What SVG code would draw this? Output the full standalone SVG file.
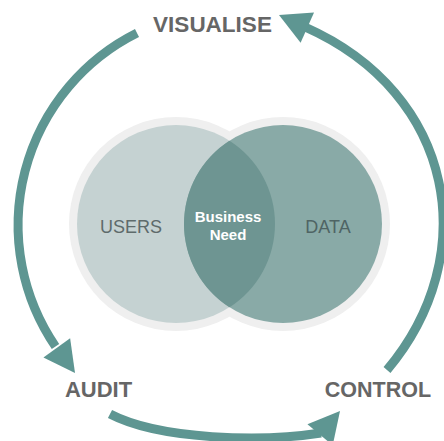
<svg xmlns="http://www.w3.org/2000/svg" xmlns:xlink="http://www.w3.org/1999/xlink" width="444" height="441" viewBox="0 0 444 441">
  <style>
    .shaft { fill: none; stroke: #5e9692; stroke-width: 9; }
    .head { fill: #5e9692; }
    .halo { fill: #efefef; }
    .stage { font-family: "Liberation Sans", Arial, sans-serif; font-weight: bold; font-size: 22px; fill: #666666; text-anchor: middle; }
    .set { font-family: "Liberation Sans", Arial, sans-serif; font-size: 18px; text-anchor: middle; }
    .core { font-family: "Liberation Sans", Arial, sans-serif; font-weight: bold; font-size: 15px; fill: #ffffff; text-anchor: middle; }
  </style>
  <defs>
    <path id="arrowhead" d="M0,0 L-31,-16.5 L-31,16.5 Z"/>
  </defs>
  <rect width="444" height="441" fill="#ffffff"/>

  <g id="connectors">
    <path class="shaft" d="M387,370 C483,256 456,94 305,27"/>
    <use xlink:href="#arrowhead" class="head" transform="translate(279,15) rotate(-156)"/>
    <path class="shaft" d="M137,33 A215,215 0 0 0 55.5,346.5"/>
    <use xlink:href="#arrowhead" class="head" transform="translate(75,373) rotate(54)"/>
    <path class="shaft" d="M110,414 C160,440 262,442 321,433"/>
    <use xlink:href="#arrowhead" class="head" transform="translate(340,411) rotate(-50)"/>
  </g>

  <g id="halos">
    <circle class="halo" cx="176" cy="224" r="107"/>
    <circle class="halo" cx="283" cy="224" r="107"/>
  </g>
  <g id="users">
    <circle cx="176" cy="224" r="99" fill="#c5d2d2"/>
    <text class="set" x="131" y="233" fill="#5e6b6b">USERS</text>
  </g>
  <g id="data">
    <circle cx="283" cy="224" r="99" fill="#89aaa7"/>
    <text class="set" x="328" y="233" fill="#4f6464">DATA</text>
  </g>
  <g id="business-need">
    <path d="M229.5,140.7 A99,99 0 0 1 229.5,307.3 A99,99 0 0 1 229.5,140.7 Z" fill="#6e9592"/>
    <text class="core" x="228" y="222">Business</text>
    <text class="core" x="228" y="240">Need</text>
  </g>

  <g id="visualise">
    <text class="stage" x="212.5" y="32" style="font-size:22.5px">VISUALISE</text>
  </g>
  <g id="audit">
    <text class="stage" x="98.5" y="397">AUDIT</text>
  </g>
  <g id="control">
    <text class="stage" x="378" y="397" style="font-size:21.5px">CONTROL</text>
  </g>
</svg>
